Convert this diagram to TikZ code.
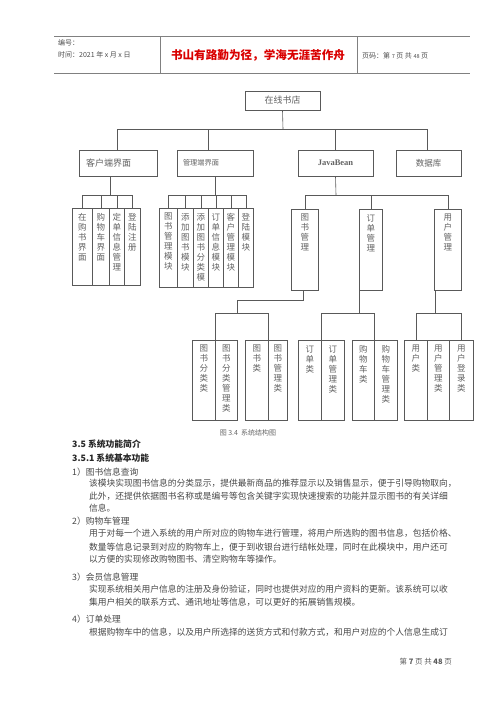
\documentclass[tikz,border=0pt]{standalone}
\usepackage{fontspec}
\setmainfont{Noto Sans CJK SC}
\newfontfamily\serif{Liberation Serif}
\XeTeXlinebreaklocale "zh"
\XeTeXlinebreakskip = 0pt plus 1pt
\usepackage{tikz}
\usetikzlibrary{positioning}
\definecolor{linegray}{gray}{0.35}
\definecolor{boxtext}{gray}{0.38}
\definecolor{bodytext}{gray}{0.28}

\tikzset{
  box/.style={draw=linegray, line width=0.6pt, inner sep=0pt, text=boxtext},
  leaf/.style={box, anchor=north west},
  vtext/.style={anchor=north, text width=1.2em, align=center, inner sep=0pt,
    font=\fontsize{8.5}{10}\selectfont, text=boxtext, yshift=-5pt},
  wire/.style={draw=linegray, line width=0.6pt},
  body/.style={anchor=base west, inner sep=0pt, text=bodytext,
    font=\fontsize{8.75}{10}\selectfont},
  head/.style={body, font=\fontsize{8.8}{10}\selectfont\bfseries, text=black!85},
  small/.style={anchor=base west, inner sep=0pt, text=black!70,
    font=\fontsize{7}{8}\selectfont}
}

\begin{document}
\begin{tikzpicture}[x=1pt,y=-1pt]
 \useasboundingbox (0,0) rectangle (500,707);

 %header
 \draw[black!50, line width=0.8pt] (54,36) -- (470,36) (54,73) -- (470,73)
   (160,36) -- (160,73) (357,36) -- (357,73);
 \node[small] (num) at (58,45) {编号：};
 \node[small] (time) at (58,57) {时间：2021 年 x 月 x 日};
 \node[font=\fontsize{11.6}{12}\selectfont\bfseries, text=red!85!black, inner sep=0pt] (motto) at (258,55) {书山有路勤为径，学海无涯苦作舟};
 \node[small] (page) at (362,58) {页码：第 {\fontsize{5.5}{6}\selectfont 7} 页\ 共 {\fontsize{5.5}{6}\selectfont 48} 页};

 %level 1
 \node[box, minimum width=75pt, minimum height=19pt, font=\fontsize{9}{10}\selectfont] (root) at (282.5,100.5) {在线书店};

 \node[box, minimum width=78pt, minimum height=26pt, text width=64pt, align=left, font=\fontsize{9}{10}\selectfont] (cli) at (118,163) {客户端界面};
 \node[box, minimum width=76pt, minimum height=26pt, text width=64pt, align=left, font=\fontsize{7.2}{8}\selectfont] (adm) at (215,163) {管理端界面};
 \node[box, minimum width=75pt, minimum height=26pt, font=\serif\fontsize{8.5}{10}\selectfont\bfseries] (jb) at (335.5,163) {JavaBean};
 \node[box, minimum width=65pt, minimum height=26pt, font=\fontsize{8.5}{10}\selectfont] (db) at (428.5,163) {数据库};

 \coordinate (hub) at (283,129);
 \draw[wire] (root.south) -- (hub);
 \foreach \n/\dx in {cli/-1, adm/-7, jb/0, db/-1}
   \draw[wire] (hub) -| ([xshift=\dx pt]\n.north);

 %level 2
 \foreach \n/\xa/\xb/\t in {c1/72/92/在购书界面, c2/92/109/购物车界面, c3/109/124/定单信息管理, c4/124/140/登陆注册} {
   \node[leaf, minimum width={(\xb-\xa)*1pt}, minimum height=77pt, label={[vtext]north:{\t}}] (\n) at (\xa,208) {};
 }
 \foreach \n/\xa/\xb/\t in {a1/159/177/图书管理模块, a2/177/193/添加图书模块, a3/193/208/添加图书分类模, a4/208/223/订单信息模块, a5/223/238/客户管理模块, a6/238/253/登陆模块} {
   \node[leaf, minimum width={(\xb-\xa)*1pt}, minimum height=79pt, label={[vtext]north:{\t}}] (\n) at (\xa,208) {};
 }
 \foreach \n/\xa/\xb/\t in {j1/291/318/图书管理, j2/359/382/订单管理, j3/434/461/用户管理} {
   \node[leaf, minimum width={(\xb-\xa)*1pt}, minimum height=81pt, label={[vtext]north:{\t}}] (\n) at (\xa,209) {};
 }

 \coordinate (cbus) at (110,195);
 \draw[wire] ([xshift=-8pt]cli.south) -- (cbus);
 \foreach \n in {c1,c2,c3,c4}
   \draw[wire] (cbus) -| (\n.north);

 \coordinate (abus) at (215,195);
 \draw[wire] (adm.south) -- (abus);
 \foreach \n in {a1,a2,a3,a4,a5,a6}
   \draw[wire] (abus) -| (\n.north);

 \coordinate (jbus) at (336,195);
 \draw[wire] (jb.south) -- (jbus);
 \foreach \n in {j1,j2,j3}
   \draw[wire] (jbus) -| (\n.north);

 %level 3
 \foreach \n/\xa/\xb/\t in {b1/192/215/图书分类类, b2/215/237/图书分类管理类, b3/245/268/图书类, b4/268/287/图书管理类,
   o1/298/321/订单类, o2/321/344/订单管理类, o3/352/374/购物车类, o4/374/397/购物车管理类,
   u1/404/427/用户类, u2/427/449/用户管理类, u3/449/473/用户登录类} {
   \node[leaf, minimum width={(\xb-\xa)*1pt}, minimum height=80pt, label={[vtext]north:{\t}}] (\n) at (\xa,340) {};
 }

 \coordinate (bkbus) at (237,313);
 \draw[wire] ([xshift=-1.5pt]j1.south) -- ++(0,10) -| (bkbus);
 \foreach \n in {b1,b3}
   \draw[wire] (bkbus) -| (\n.north east);

 \coordinate (odbus) at (359,313);
 \draw[wire] (j2.south west) -- (odbus);
 \foreach \n in {o1,o3}
   \draw[wire] (odbus) -| (\n.north east);

 \coordinate (usbus) at (435,313);
 \draw[wire] ([xshift=1pt]j3.south west) -- (usbus);
 \foreach \n in {u1,u3}
   \draw[wire] (usbus) -| (\n.north);

 \node[font=\fontsize{7}{8}\selectfont, text=black!60, inner sep=0pt] (cap) at (248,433) {图 3.4\ \ 系统结构图};

 % text
 \node[head] (h1) at (72,447.5) {3.5 系统功能简介};
 \node[head] (h2) at (72,461.5) {3.5.1 系统基本功能};

 \node[body] (i1) at (72,475.5) {1）图书信息查询};
 \node[body] (p11) at (89,486.5) {该模块实现图书信息的分类显示，提供最新商品的推荐显示以及销售显示，便于引导购物取向，};
 \node[body] (p12) at (89,499.5) {此外，还提供依据图书名称或是编号等包含关键字实现快速搜索的功能并显示图书的有关详细};
 \node[body] (p13) at (89,511.5) {信息。};

 \node[body] (i2) at (72,524.5) {2）购物车管理};
 \node[body] (p21) at (89,536.5) {用于对每一个进入系统的用户所对应的购物车进行管理，将用户所选购的图书信息，包括价格、};
 \node[body] (p22) at (89,550) {数量等信息记录到对应的购物车上，便于到收银台进行结帐处理，同时在此模块中，用户还可};
 \node[body] (p23) at (89,562.5) {以方便的实现修改购物图书、清空购物车等操作。};

 \node[body] (i3) at (72,580.5) {3）会员信息管理};
 \node[body] (p31) at (89,592.5) {实现系统相关用户信息的注册及身份验证，同时也提供对应的用户资料的更新。该系统可以收};
 \node[body] (p32) at (89,605.5) {集用户相关的联系方式、通讯地址等信息，可以更好的拓展销售规模。};

 \node[body] (i4) at (72,622.5) {4）订单处理};
 \node[body] (p41) at (89,635.5) {根据购物车中的信息，以及用户所选择的送货方式和付款方式，和用户对应的个人信息生成订};

 \node[small, anchor=base east, text=black!65, font=\fontsize{7.5}{8}\selectfont] (foot) at (452,664) {第 \textbf{7} 页 共 \textbf{48} 页};

\end{tikzpicture}
\end{document}
